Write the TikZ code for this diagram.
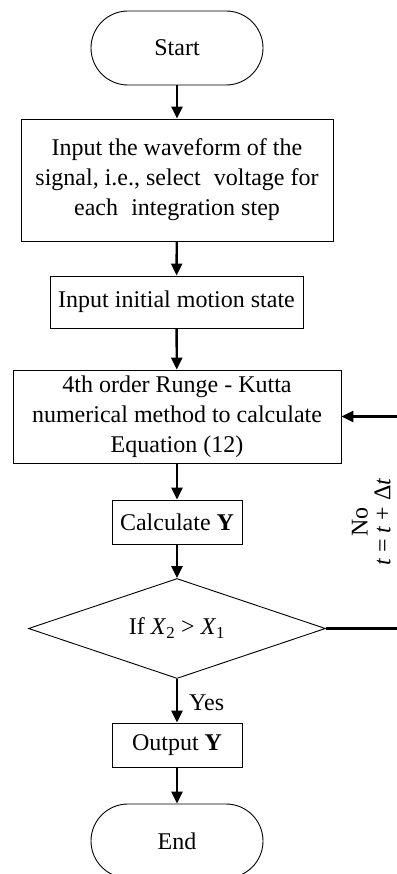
\documentclass[tikz,border=0pt]{standalone}
\usepackage{fontspec}
\setmainfont{Liberation Serif}
\usetikzlibrary{arrows.meta,shapes.geometric}

\begin{document}
\begin{tikzpicture}[x=1pt,y=-1pt,
  every node/.style={font=\fontsize{24}{30}\selectfont, align=center, inner sep=0pt},
  proc/.style={draw, line width=0.9pt},
  terminal/.style={draw, line width=0.9pt, rounded corners=37pt,
    minimum width=172pt, minimum height=74pt},
  decision/.style={draw, line width=0.9pt, diamond, aspect=2.97,
    minimum width=297pt, minimum height=100pt},
  flow/.style={line width=2.4pt, -{Triangle[length=12pt,width=11pt]}}
]
\useasboundingbox (0,0) rectangle (396,874);

% boxes of the flowchart
\node[terminal] (start) at (177,48) {Start};
\node[proc, minimum width=312pt, minimum height=122pt] (wave) at (177,180)
  {Input the waveform of the\\signal, i.e., select\hspace{0.3em} voltage for\\each\hspace{0.3em} integration step};
\node[proc, minimum width=253pt, minimum height=52pt] (init) at (176.5,302) {Input initial motion state};
\node[proc, minimum width=328pt, minimum height=93pt] (rk) at (177,416.5)
  {4th order Runge - Kutta\\numerical method to calculate\\Equation (12)};
\node[proc, minimum width=130pt, minimum height=44pt] (calc) at (177,522) {Calculate \textbf{Y}};
\node[decision] (dec) at (177,628.5) {};
\node at (177,628) {If \textit{X}\textsubscript{2} > \textit{X}\textsubscript{1}};
\node[proc, minimum width=130pt, minimum height=44pt] (out) at (177,745) {Output \textbf{Y}};
\node[terminal] (end) at (177,841) {End};

% connectors
\draw[flow] (start) -- (wave);
\draw[flow] (wave) -- (init);
\draw[flow] (init) -- (rk);
\draw[flow] (rk) -- (calc);
\draw[flow] (calc) -- (dec);
\draw[flow] (dec) -- node[anchor=west, xshift=11pt, yshift=-2pt] (yes) {Yes} (out);
\draw[flow] (dec.east) -- ++(78,0) |- (rk.east);

% loop labels
\node[rotate=90] (no) at (360,522) {No};
\node[rotate=90] (inc) at (382.5,522) {\textit{t} = \textit{t} + Δ\textit{t}};
\draw[flow] (out) -- (end);
\end{tikzpicture}
\end{document}
